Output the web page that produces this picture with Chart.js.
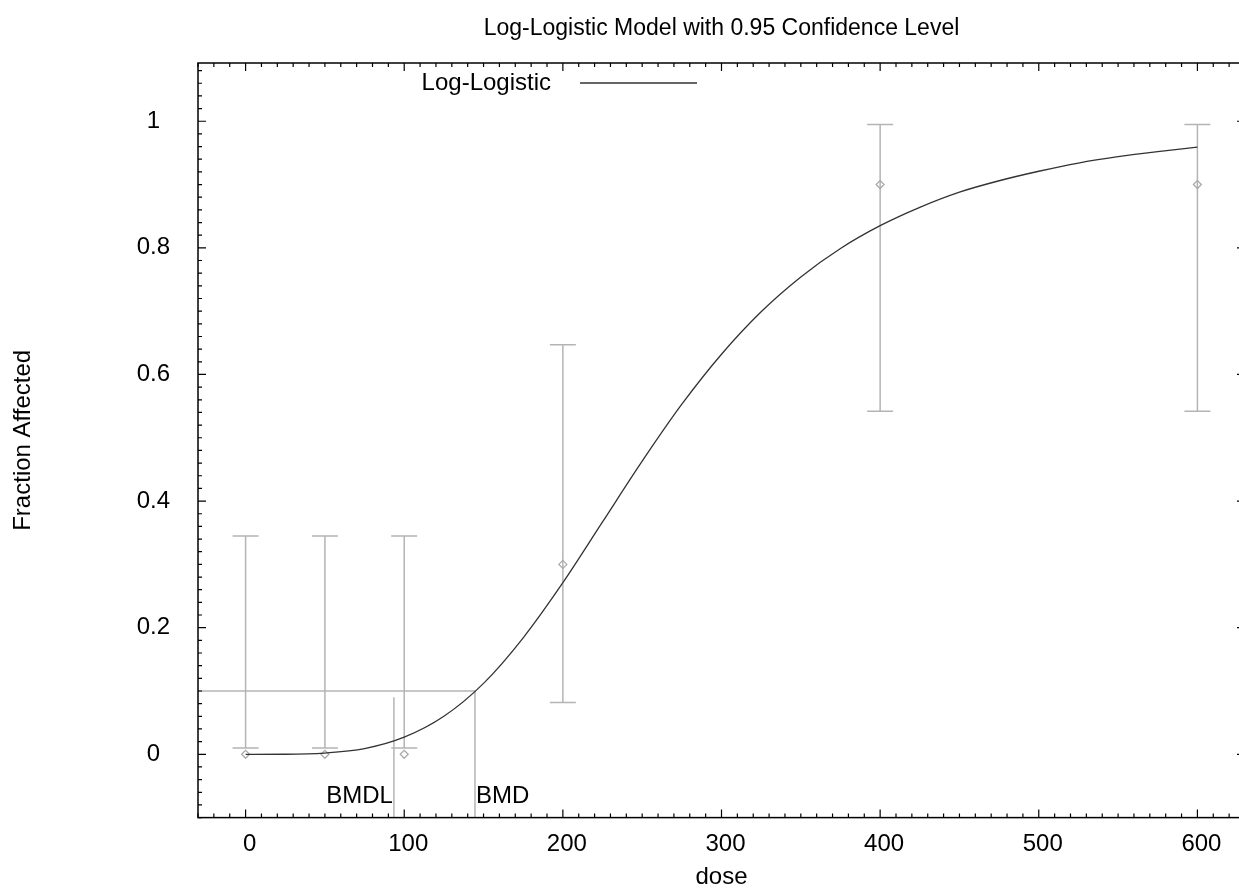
<!DOCTYPE html>
<html>
<head>
<meta charset="utf-8">
<script src="https://cdn.jsdelivr.net/npm/chart.js@4/dist/chart.umd.min.js"></script>
<style>
  html, body { margin: 0; padding: 0; background: #fff; overflow: hidden; }
  #chart { display: block; }
</style>
</head>
<body>
<canvas id="chart" width="1260" height="892"></canvas>
<script>
// observed dose groups
const doses = [0, 50, 100, 200, 400, 600];
const observed = [0, 0, 0, 0.3, 0.9, 0.9];
const ciLower = [0.01, 0.01, 0.01, 0.082, 0.542, 0.542];
const ciUpper = [0.345, 0.345, 0.345, 0.647, 0.995, 0.995];

// fitted log-logistic curve
const curveDoses = [0, 25, 50, 75, 100, 125, 150, 175, 200, 225, 250, 275, 300,
  325, 350, 375, 400, 425, 450, 475, 500, 525, 550, 575, 600];
const curveFit = [0, 0.0001, 0.002, 0.009, 0.027, 0.060, 0.112, 0.184, 0.271, 0.367,
  0.463, 0.553, 0.632, 0.699, 0.754, 0.799, 0.835, 0.864, 0.888, 0.906, 0.921,
  0.934, 0.944, 0.952, 0.959];

// benchmark dose
const bmr = 0.1;
const bmd = 144.6;
const bmdl = 93.5;
const bmdlTop = 0.09;

const xTicks = [0, 100, 200, 300, 400, 500, 600];
const yTicks = [0, 0.2, 0.4, 0.6, 0.8, 1];
const xMin = -30, xMax = 630;
const yMin = -0.1, yMax = 1.092;

const FONT = "'Liberation Sans', Arial, Helvetica, sans-serif";
const GRAY = "#b4b4b4";

const gnuplotFrame = {
  id: "gnuplotFrame",
  beforeDatasetsDraw(chart) {
    const { ctx, scales: { x, y } } = chart;
    ctx.save();
    ctx.strokeStyle = GRAY;
    ctx.lineWidth = 1.5;
    doses.forEach((d, i) => {
      const px = x.getPixelForValue(d);
      const lo = y.getPixelForValue(ciLower[i]);
      const hi = y.getPixelForValue(ciUpper[i]);
      ctx.beginPath();
      ctx.moveTo(px, lo); ctx.lineTo(px, hi);
      ctx.moveTo(px - 13, lo); ctx.lineTo(px + 13, lo);
      ctx.moveTo(px - 13, hi); ctx.lineTo(px + 13, hi);
      ctx.stroke();
    });
    ctx.restore();
  },
  afterDraw(chart) {
    const { ctx, chartArea: a, scales: { x, y } } = chart;
    ctx.save();
    ctx.strokeStyle = "#000";
    ctx.lineWidth = 1.5;
    ctx.strokeRect(a.left, a.top, a.right - a.left, a.bottom - a.top);

    ctx.lineWidth = 1.2;
    ctx.beginPath();
    for (let i = -3; i <= 63; i++) {
      const px = x.getPixelForValue(i * 10);
      const len = i % 10 === 0 ? 8 : 4;
      ctx.moveTo(px, a.bottom); ctx.lineTo(px, a.bottom - len);
      ctx.moveTo(px, a.top); ctx.lineTo(px, a.top + len);
    }
    for (let i = -5; i <= 54; i++) {
      const py = y.getPixelForValue(i * 0.02);
      const len = i % 10 === 0 ? 8 : 4;
      ctx.moveTo(a.left, py); ctx.lineTo(a.left + len, py);
      ctx.moveTo(a.right, py); ctx.lineTo(a.right - len, py);
    }
    ctx.stroke();

    // key
    ctx.font = "24px " + FONT;
    ctx.fillStyle = "#000";
    ctx.textAlign = "right";
    ctx.textBaseline = "middle";
    ctx.fillText(chart.data.datasets[0].label, 551, 83);
    ctx.strokeStyle = "#333";
    ctx.lineWidth = 1.3;
    ctx.beginPath();
    ctx.moveTo(580, 83); ctx.lineTo(697, 83);
    ctx.stroke();

    // BMD labels
    const ly = y.getPixelForValue(-0.066);
    ctx.textAlign = "right";
    ctx.fillText("BMDL", x.getPixelForValue(bmdl) - 1, ly);
    ctx.textAlign = "left";
    ctx.fillText("BMD", x.getPixelForValue(bmd) + 1, ly);
    ctx.restore();
  }
};

const grayLine = {
  type: "line",
  borderColor: GRAY,
  borderWidth: 1.5,
  pointRadius: 0,
  fill: false
};

new Chart(document.getElementById("chart"), {
  type: "scatter",
  data: {
    datasets: [
      {
        type: "line",
        label: "Log-Logistic",
        data: curveDoses.map((d, i) => ({ x: d, y: curveFit[i] })),
        borderColor: "#333",
        borderWidth: 1.3,
        pointRadius: 0,
        cubicInterpolationMode: "monotone",
        fill: false
      },
      {
        label: "observed",
        data: doses.map((d, i) => ({ x: d, y: observed[i] })),
        pointStyle: "rectRot",
        pointRadius: 4,
        borderColor: "#a8a8a8",
        borderWidth: 1.2,
        backgroundColor: "rgba(255,255,255,0)"
      },
      { ...grayLine, label: "BMR", data: [{ x: xMin, y: bmr }, { x: bmd, y: bmr }] },
      { ...grayLine, label: "BMD", data: [{ x: bmd, y: yMin }, { x: bmd, y: bmr }] },
      { ...grayLine, label: "BMDL", data: [{ x: bmdl, y: yMin }, { x: bmdl, y: bmdlTop }] }
    ]
  },
  options: {
    responsive: false,
    animation: false,
    layout: { padding: { left: 0, top: 0, right: 15, bottom: 0 } },
    scales: {
      x: {
        type: "linear",
        min: xMin,
        max: xMax,
        afterBuildTicks: s => { s.ticks = xTicks.map(v => ({ value: v })); },
        afterFit: s => { s.height = 74.4; },
        grid: { display: false, drawTicks: false },
        border: { display: false },
        ticks: { padding: 12, labelOffset: 4, color: "#000", font: { family: FONT, size: 24 }, maxRotation: 0 },
        title: { display: true, text: "dose", color: "#000", font: { family: FONT, size: 24 }, padding: { top: 0, bottom: 0 } }
      },
      y: {
        type: "linear",
        min: yMin,
        max: yMax,
        afterBuildTicks: s => { s.ticks = yTicks.map(v => ({ value: v })); },
        afterFit: s => { s.width = 198; },
        grid: { display: false, drawTicks: false },
        border: { display: false },
        ticks: { padding: 28, crossAlign: "center", color: "#000", font: { family: FONT, size: 24 }, callback: v => String(v) },
        title: { display: true, text: "Fraction Affected", color: "#000", font: { family: FONT, size: 24 }, padding: { top: 9, bottom: 0 } }
      }
    },
    plugins: {
      legend: { display: false },
      tooltip: { enabled: false },
      title: {
        display: true,
        fullSize: false,
        text: "Log-Logistic Model with 0.95 Confidence Level",
        color: "#000",
        font: { family: FONT, size: 23, weight: "normal" },
        padding: { top: 15, bottom: 20.4 }
      }
    }
  },
  plugins: [gnuplotFrame]
});
</script>
</body>
</html>
